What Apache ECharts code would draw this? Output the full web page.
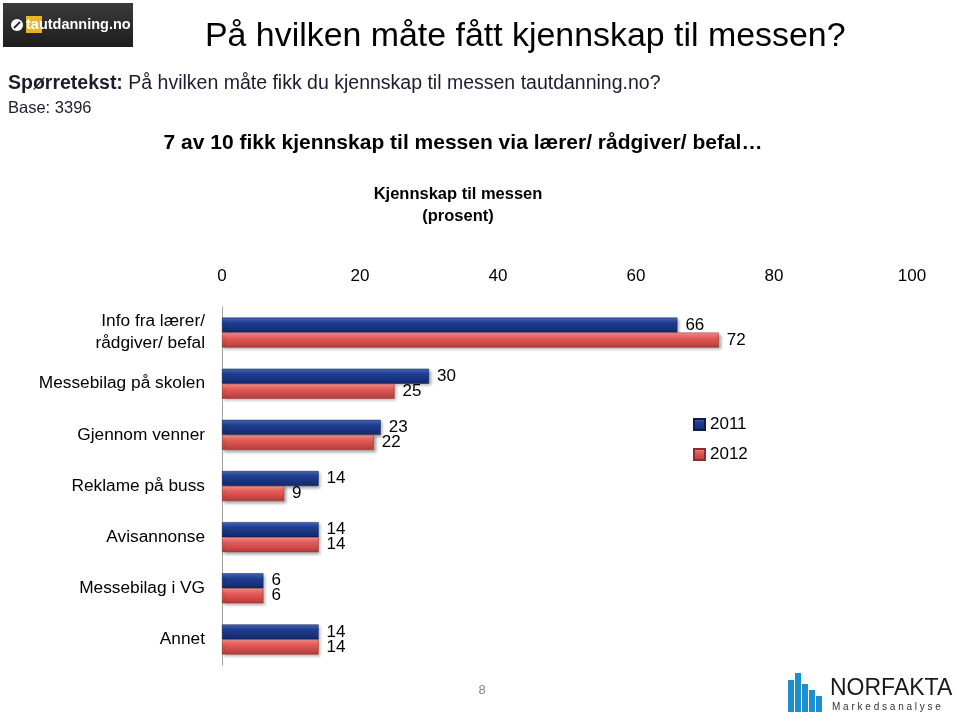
<!DOCTYPE html>
<html><head><meta charset="utf-8">
<script src="https://cdn.jsdelivr.net/npm/echarts@6/dist/echarts.min.js"></script>
<style>html,body{margin:0;padding:0;background:#fff}#c{width:959px;height:717px}</style>
</head><body><div id="c"></div>
<script>
const categories = ['Info fra lærer/\nrådgiver/ befal','Messebilag på skolen','Gjennom venner','Reklame på buss','Avisannonse','Messebilag i VG','Annet'];
const values2011 = [66, 30, 23, 14, 14, 6, 14];
const values2012 = [72, 25, 22, 9, 14, 6, 14];
const seriesNames = ['2011', '2012'];

const FONT = 'Liberation Sans';
const chart = echarts.init(document.getElementById('c'), null, {renderer:'canvas'});
const blueGrad = new echarts.graphic.LinearGradient(0,0,0,1,[
  {offset:0,color:'#4a6cc0'},{offset:0.35,color:'#1f3e92'},{offset:1,color:'#13286a'}]);
const redGrad = new echarts.graphic.LinearGradient(0,0,0,1,[
  {offset:0,color:'#f59a98'},{offset:0.35,color:'#e85a57'},{offset:1,color:'#b23c3a'}]);
const lbl = {show:true, position:'right', distance:8, color:'#000', fontSize:17, fontFamily:FONT};
const TXT = '#1c1c30';

chart.setOption({
  animation:false,
  textStyle:{fontFamily:FONT},
  grid:{left:222, right:47, top:307, height:358, containLabel:false},
  xAxis:{type:'value', position:'top', min:0, max:100, interval:20,
    axisLine:{show:false}, axisTick:{show:false}, splitLine:{show:false},
    axisLabel:{color:'#000', fontSize:17, margin:22, fontFamily:FONT}},
  yAxis:{type:'category', inverse:true, data:categories,
    axisLine:{show:true, lineStyle:{color:'#a0a0a0'}}, axisTick:{show:false},
    axisLabel:{color:'#000', fontSize:17.3, margin:17, lineHeight:22, fontFamily:FONT}},
  legend:{orient:'vertical', left:688, top:411, itemWidth:11, itemHeight:11, itemGap:13,
    textStyle:{fontSize:17, color:'#000', fontFamily:FONT}, icon:'rect',
    data:seriesNames},
  series:[
    {name:seriesNames[0], type:'bar', data:values2011, barWidth:15, barGap:'0%',
     itemStyle:{color:blueGrad, borderColor:'#0e1d50', borderWidth:0.5, shadowColor:'rgba(0,0,0,0.35)', shadowBlur:3, shadowOffsetX:2, shadowOffsetY:2},
     label:lbl},
    {name:seriesNames[1], type:'bar', data:values2012, barWidth:15, barGap:'0%',
     itemStyle:{color:redGrad, borderColor:'#8e2e2c', borderWidth:0.5, shadowColor:'rgba(0,0,0,0.35)', shadowBlur:3, shadowOffsetX:2, shadowOffsetY:2},
     label:lbl}
  ],
  graphic:[
    // tautdanning logo
    {type:'rect', shape:{x:3,y:3,width:130,height:44}, style:{fill:new echarts.graphic.LinearGradient(0,0,0,1,[{offset:0,color:'#3a3a3a'},{offset:1,color:'#1e1e1e'}])}},
    {type:'circle', shape:{cx:17,cy:25,r:6}, style:{fill:'#fff'}},
    {type:'line', shape:{x1:14,y1:28,x2:20,y2:22}, style:{stroke:'#2a2a2a', lineWidth:2}},
    {type:'rect', shape:{x:26,y:16,width:16,height:17}, style:{fill:'#e8b326'}},
    {type:'text', x:26, y:25, style:{text:'tautdanning.no', fill:'#fff', font:'bold 14.5px "Liberation Sans"', textVerticalAlign:'middle'}},
    // titles
    {type:'text', x:205, y:37, style:{text:'På hvilken måte fått kjennskap til messen?', fill:'#000', font:'33.9px "Liberation Sans"', textVerticalAlign:'middle'}},
    {type:'text', x:8, y:84, style:{rich:{b:{font:'bold 19.5px "Liberation Sans"', fill:TXT}, n:{font:'19.5px "Liberation Sans"', fill:TXT}}, text:'{b|Spørretekst:}{n| På hvilken måte fikk du kjennskap til messen tautdanning.no?}', textVerticalAlign:'middle'}},
    {type:'text', x:8, y:108, style:{text:'Base: 3396', fill:TXT, font:'16.5px "Liberation Sans"', textVerticalAlign:'middle'}},
    {type:'text', x:463, y:143, style:{text:'7 av 10 fikk kjennskap til messen via lærer/ rådgiver/ befal…', fill:'#000', font:'bold 21px "Liberation Sans"', textAlign:'center', textVerticalAlign:'middle'}},
    {type:'text', x:458, y:194, style:{text:'Kjennskap til messen', fill:'#000', font:'bold 16.5px "Liberation Sans"', textAlign:'center', textVerticalAlign:'middle'}},
    {type:'text', x:458, y:216, style:{text:'(prosent)', fill:'#000', font:'bold 16.5px "Liberation Sans"', textAlign:'center', textVerticalAlign:'middle'}},
    {type:'text', x:482, y:690, style:{text:'8', fill:'#888', font:'13px "Liberation Sans"', textAlign:'center', textVerticalAlign:'middle'}},
    // NORFAKTA logo
    {type:'rect', shape:{x:788,y:680,width:6,height:32}, style:{fill:'#1b8fd0'}},
    {type:'rect', shape:{x:795,y:673,width:6,height:39}, style:{fill:'#1b8fd0'}},
    {type:'rect', shape:{x:802,y:684,width:6,height:28}, style:{fill:'#1b8fd0'}},
    {type:'rect', shape:{x:809,y:690,width:6,height:22}, style:{fill:'#1b8fd0'}},
    {type:'rect', shape:{x:816,y:696,width:6,height:16}, style:{fill:'#1b8fd0'}},
    {type:'text', x:830, y:689, style:{text:'NORFAKTA', fill:'#1a1a1a', font:'23px "Liberation Sans"', textVerticalAlign:'middle'}},
    {type:'text', x:832, y:707, style:{text:'M a r k e d s a n a l y s e', fill:'#333', font:'10px "Liberation Sans"', textVerticalAlign:'middle'}}
  ]
});
</script></body></html>
